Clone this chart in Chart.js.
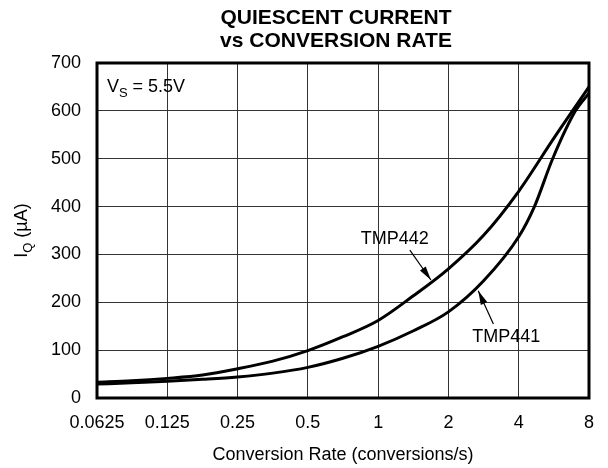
<!DOCTYPE html>
<html><head><meta charset="utf-8">
<script src="https://cdn.jsdelivr.net/npm/chart.js@4.4.1/dist/chart.umd.min.js"></script>
<style>html,body{margin:0;padding:0;background:#fff}</style>
</head><body>
<canvas id="c" width="608" height="468"></canvas>
<script>
const rateTicks = [0.0625, 0.125, 0.25, 0.5, 1, 2, 4, 8];
const rateTickLabels = ['0.0625', '0.125', '0.25', '0.5', '1', '2', '4', '8'];
const iqTicks = [0, 100, 200, 300, 400, 500, 600, 700];

const tmp442Rate = [0.0625, 0.088, 0.125, 0.177, 0.25, 0.354, 0.5, 0.707, 1, 1.41, 2, 2.83, 4, 5.66, 8];
const tmp442Iq   = [33, 36, 41, 48, 61, 77, 99, 128, 162, 213, 270, 340, 432, 543, 650];

const tmp441Rate = [0.0625, 0.088, 0.125, 0.177, 0.25, 0.354, 0.5, 0.707, 1, 1.41, 2, 2.83, 4, 4.67, 5.59, 7.0, 8];
const tmp441Iq   = [29, 32, 35, 39, 44, 52, 64, 83, 108, 140, 180, 245, 337, 400, 500, 600, 637];

const FONT = '"Liberation Sans", Arial, Helvetica, sans-serif';

const pts = (xs, ys) => xs.map((x, i) => ({x, y: ys[i]}));

const overlay = {
  id: 'overlay',
  afterDraw(chart) {
    const {ctx, chartArea: a, scales: {x, y}} = chart;
    ctx.save();
    ctx.strokeStyle = '#000';
    ctx.lineWidth = 3;
    ctx.strokeRect(a.left, a.top, a.right - a.left, a.bottom - a.top);

    ctx.fillStyle = '#000';
    ctx.textAlign = 'center';
    ctx.textBaseline = 'alphabetic';
    ctx.font = 'bold 21px ' + FONT;
    ctx.fillText('QUIESCENT CURRENT', 336, 24);
    ctx.fillText('vs CONVERSION RATE', 336, 46.5);

    ctx.font = '18px ' + FONT;
    ctx.fillText('Conversion Rate (conversions/s)', 343, 460);

    // y axis title with subscript
    ctx.save();
    ctx.translate(27, (a.top + a.bottom) / 2);
    ctx.rotate(-Math.PI / 2);
    ctx.textAlign = 'left';
    const p1 = 'I', p2 = 'Q', p3 = ' (\u00B5A)';
    ctx.font = '18px ' + FONT; const w1 = ctx.measureText(p1).width;
    ctx.font = '13px ' + FONT; const w2 = ctx.measureText(p2).width;
    ctx.font = '18px ' + FONT; const w3 = ctx.measureText(p3).width;
    let sx = -(w1 + w2 + w3) / 2;
    ctx.fillText(p1, sx, 0); sx += w1;
    ctx.font = '13px ' + FONT; ctx.fillText(p2, sx, 5); sx += w2;
    ctx.font = '18px ' + FONT; ctx.fillText(p3, sx, 0);
    ctx.restore();

    // V_S label
    ctx.textAlign = 'left';
    let vx = x.getPixelForValue(0.0689), vy = y.getPixelForValue(640);
    ctx.font = '18px ' + FONT;
    ctx.fillText('V', vx, vy); vx += ctx.measureText('V').width;
    ctx.font = '13px ' + FONT;
    ctx.fillText('S', vx, vy + 5); vx += ctx.measureText('S').width;
    ctx.font = '18px ' + FONT;
    ctx.fillText(' = 5.5V', vx, vy);

    // curve labels and arrows
    ctx.textAlign = 'center';
    ctx.fillText('TMP442', x.getPixelForValue(1.179), y.getPixelForValue(322));
    ctx.fillText('TMP441', x.getPixelForValue(3.54), y.getPixelForValue(117.6));
    const arrow = (x0, y0, x1, y1) => {
      const X0 = x.getPixelForValue(x0), Y0 = y.getPixelForValue(y0);
      const X1 = x.getPixelForValue(x1), Y1 = y.getPixelForValue(y1);
      ctx.strokeStyle = '#000'; ctx.lineWidth = 1.2;
      ctx.beginPath(); ctx.moveTo(X0, Y0); ctx.lineTo(X1, Y1); ctx.stroke();
      const ang = Math.atan2(Y1 - Y0, X1 - X0), L = 14, W = 3.5;
      ctx.beginPath();
      ctx.moveTo(X1, Y1);
      ctx.lineTo(X1 - L * Math.cos(ang) + W * Math.sin(ang), Y1 - L * Math.sin(ang) - W * Math.cos(ang));
      ctx.lineTo(X1 - L * Math.cos(ang) - W * Math.sin(ang), Y1 - L * Math.sin(ang) + W * Math.cos(ang));
      ctx.closePath(); ctx.fill();
    };
    arrow(1.367, 309, 1.683, 246.6);
    arrow(3.116, 154.6, 2.683, 224.2);
    ctx.restore();
  }
};

new Chart(document.getElementById('c'), {
  type: 'line',
  data: {
    datasets: [
      { label: 'TMP442', data: pts(tmp442Rate, tmp442Iq), borderColor: '#000', borderWidth: 3,
        pointRadius: 0, cubicInterpolationMode: 'monotone', fill: false },
      { label: 'TMP441', data: pts(tmp441Rate, tmp441Iq), borderColor: '#000', borderWidth: 3,
        pointRadius: 0, cubicInterpolationMode: 'monotone', fill: false }
    ]
  },
  options: {
    responsive: false,
    animation: false,
    devicePixelRatio: 1,
    layout: { padding: { left: 0, top: 63, right: 14, bottom: 0 } },
    plugins: { legend: { display: false }, tooltip: { enabled: false }, title: { display: false } },
    scales: {
      x: {
        type: 'logarithmic', min: 0.0625, max: 8,
        afterBuildTicks: s => { s.ticks = rateTicks.map(v => ({value: v})); },
        afterFit: s => { s.height = 70; },
        ticks: { autoSkip: false, maxRotation: 0, padding: 14, color: '#000',
                 font: { family: FONT, size: 18 },
                 callback: (v) => { const i = rateTicks.indexOf(v); return i >= 0 ? rateTickLabels[i] : ''; } },
        grid: { color: '#333', lineWidth: 1, drawTicks: false },
        border: { display: false }
      },
      y: {
        min: 0, max: 700,
        afterBuildTicks: s => { s.ticks = iqTicks.map(v => ({value: v})); },
        afterFit: s => { s.width = 97; },
        ticks: { padding: 16, color: '#000', font: { family: FONT, size: 18 } },
        grid: { color: '#333', lineWidth: 1, drawTicks: false },
        border: { display: false }
      }
    }
  },
  plugins: [overlay]
});
</script>
</body></html>
